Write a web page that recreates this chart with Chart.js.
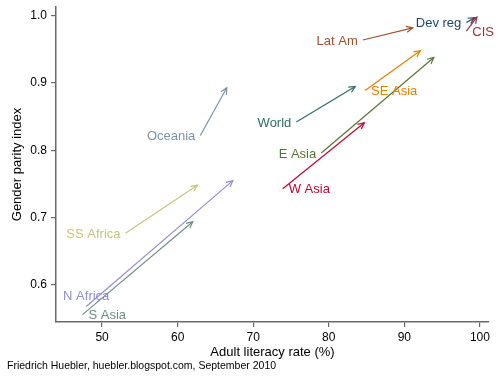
<!DOCTYPE html>
<html>
<head>
<meta charset="utf-8">
<script src="https://cdn.jsdelivr.net/npm/chart.js@4"></script>
<style>
  html, body { margin: 0; padding: 0; background: #ffffff; }
  #wrap { width: 500px; height: 380px; }
</style>
</head>
<body>
<div id="wrap"><canvas id="c" width="500" height="380"></canvas></div>
<script>
// ---- data ----
const regions   = ["Oceania", "Lat Am", "Dev reg", "CIS", "SE Asia", "World", "E Asia", "W Asia", "SS Africa", "N Africa", "S Asia"];
const litStart  = [63.0, 84.5, 98.2, 98.2, 84.8, 75.7, 79.0, 73.9, 53.1, 47.9, 47.4];
const gpiStart  = [0.822, 0.964, 0.990, 0.977, 0.889, 0.842, 0.796, 0.743, 0.677, 0.568, 0.556];
const litEnd    = [66.5, 91.1, 99.3, 99.6, 92.1, 83.5, 93.9, 84.7, 62.6, 67.3, 62.0];
const gpiEnd    = [0.893, 0.982, 0.997, 0.998, 0.948, 0.895, 0.938, 0.841, 0.748, 0.755, 0.694];
const xTicks    = [50, 60, 70, 80, 90, 100];
const yTicks    = [0.6, 0.7, 0.8, 0.9, 1.0];

// ---- styles ----
const colors = ["#7b92a8", "#a0522d", "#1a476f", "#90353b", "#e37e00", "#2d6d66", "#55752f", "#c10534", "#cac27e", "#938dd2", "#6e8e84"];
const labelClock = [9, 9, 9, 3, 3, 9, 9, 3, 9, 12, 3];
const FONT = "'Liberation Sans', Arial, Helvetica, sans-serif";
const axisGrey = "#6a6a6a";

const datasets = regions.map((r, i) => ({
  label: r,
  data: [{x: litStart[i], y: gpiStart[i]}, {x: litEnd[i], y: gpiEnd[i]}],
  borderColor: colors[i],
  backgroundColor: colors[i],
  borderWidth: 1.2,
  pointRadius: 0,
  showLine: true,
  tension: 0
}));

const arrowPlugin = {
  id: 'arrows',
  afterDatasetsDraw(chart) {
    const ctx = chart.ctx;
    const xs = chart.scales.x, ys = chart.scales.y;
    ctx.save();
    regions.forEach((r, i) => {
      const x0 = xs.getPixelForValue(litStart[i]), y0 = ys.getPixelForValue(gpiStart[i]);
      const x1 = xs.getPixelForValue(litEnd[i]), y1 = ys.getPixelForValue(gpiEnd[i]);
      const ang = Math.atan2(y1 - y0, x1 - x0);
      const len = 7, spread = 0.45;
      ctx.strokeStyle = colors[i];
      ctx.lineWidth = 1.2;
      ctx.beginPath();
      ctx.moveTo(x1 - len * Math.cos(ang - spread), y1 - len * Math.sin(ang - spread));
      ctx.lineTo(x1, y1);
      ctx.lineTo(x1 - len * Math.cos(ang + spread), y1 - len * Math.sin(ang + spread));
      ctx.stroke();
      // label at start point
      ctx.fillStyle = colors[i];
      ctx.font = "13px " + FONT;
      ctx.textBaseline = 'middle';
      const c = labelClock[i];
      if (c === 9) {
        ctx.textAlign = 'right';
        ctx.fillText(r, x0 - 5, y0 + 1);
      } else if (c === 3) {
        ctx.textAlign = 'left';
        ctx.fillText(r, x0 + 6, y0 + 1);
      } else {
        ctx.textAlign = 'center';
        ctx.fillText(r, x0, y0 - 10);
      }
    });
    ctx.restore();
  },
  afterDraw(chart) {
    const ctx = chart.ctx;
    ctx.save();
    ctx.fillStyle = '#000';
    ctx.font = "10.5px " + FONT;
    ctx.textAlign = 'left';
    ctx.textBaseline = 'middle';
    ctx.fillText("Friedrich Huebler, huebler.blogspot.com, September 2010", 7, 366);
    ctx.restore();
  }
};

new Chart(document.getElementById('c'), {
  type: 'scatter',
  data: { datasets },
  plugins: [arrowPlugin],
  options: {
    responsive: false,
    animation: false,
    devicePixelRatio: 1,
    layout: { padding: { top: 7, right: 11, left: 0, bottom: 0 } },
    plugins: { legend: { display: false }, tooltip: { enabled: false }, title: { display: false } },
    scales: {
      x: {
        type: 'linear',
        min: 43.9, max: 101.2,
        afterBuildTicks: (s) => { s.ticks = xTicks.map(v => ({value: v})); },
        afterFit: (s) => { s.height = 58; s.paddingLeft = 0; s.paddingRight = 0; },
        grid: { drawOnChartArea: false, tickLength: 5, color: axisGrey, lineWidth: 1.2 },
        border: { color: axisGrey, width: 1.5 },
        ticks: { color: '#000', font: { family: FONT, size: 12 }, padding: 3, maxRotation: 0, autoSkip: false },
        title: { display: true, text: 'Adult literacy rate (%)', color: '#000', font: { family: FONT, size: 13 }, padding: { top: 0, bottom: 20 } }
      },
      y: {
        type: 'linear',
        min: 0.545, max: 1.013,
        afterBuildTicks: (s) => { s.ticks = yTicks.map(v => ({value: v})); },
        afterFit: (s) => { s.width = 56; s.paddingTop = 0; s.paddingBottom = 0; },
        grid: { drawOnChartArea: false, tickLength: 5, color: axisGrey, lineWidth: 1.2 },
        border: { color: axisGrey, width: 1.5 },
        ticks: { color: '#000', font: { family: FONT, size: 12 }, padding: 4, callback: (v) => Number(v).toFixed(1), autoSkip: false },
        title: { display: true, text: 'Gender parity index', color: '#000', font: { family: FONT, size: 13 }, padding: { top: 10, bottom: 0 } }
      }
    }
  }
});
</script>
</body>
</html>
